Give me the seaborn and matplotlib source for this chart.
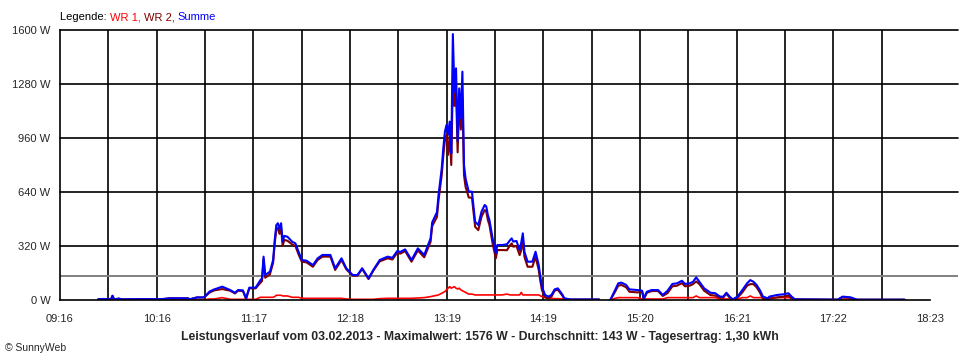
import numpy as np
import pandas as pd
import matplotlib
matplotlib.use("Agg")
import matplotlib.pyplot as plt
import seaborn as sns

# ---------------- data ----------------
times = ["09:40", "09:43", "09:48", "09:49", "09:50", "09:53", "09:55", "10:05", "10:20", "10:25",
         "10:36", "10:38", "10:42", "10:46", "10:47", "10:50", "10:53", "10:58", "11:03", "11:06",
         "11:08", "11:11", "11:13", "11:15", "11:19", "11:22", "11:23", "11:24", "11:25", "11:28",
         "11:30", "11:31", "11:32", "11:33", "11:34", "11:35", "11:36", "11:37", "11:39", "11:42",
         "11:44", "11:46", "11:48", "11:51", "11:55", "11:58", "12:01", "12:06", "12:09", "12:13",
         "12:16", "12:20", "12:23", "12:26", "12:30", "12:33", "12:37", "12:42", "12:45", "12:48",
         "12:50", "12:53", "12:57", "13:01", "13:05", "13:09", "13:10", "13:13", "13:14", "13:16",
         "13:17", "13:18", "13:19", "13:20", "13:21", "13:22", "13:23", "13:24", "13:25", "13:26",
         "13:27", "13:28", "13:29", "13:30", "13:31", "13:32", "13:33", "13:35", "13:37", "13:39",
         "13:41", "13:43", "13:44", "13:45", "13:46", "13:48", "13:50", "13:51", "13:54", "13:57",
         "13:59", "14:00", "14:01", "14:03", "14:05", "14:06", "14:07", "14:08", "14:10", "14:13",
         "14:15", "14:17", "14:18", "14:19", "14:21", "14:23", "14:25", "14:27", "14:29", "14:32",
         "14:33", "14:37", "14:55",
         "15:02", "15:05", "15:07", "15:09", "15:12", "15:14", "15:19", "15:22", "15:23", "15:25",
         "15:28", "15:32", "15:35", "15:38", "15:41", "15:44", "15:47", "15:49", "15:52", "15:54",
         "15:56", "15:58", "16:01", "16:05", "16:08", "16:11", "16:13", "16:15", "16:17", "16:19",
         "16:22", "16:25", "16:28", "16:30", "16:32", "16:34", "16:36", "16:38", "16:41", "16:42",
         "16:47", "16:51", "16:54", "16:56", "16:58", "17:25", "17:28", "17:33", "17:37", "18:07"]

summe = [4, 6, 4, 25, 4, 8, 4, 5, 5, 10,
         10, 5, 15, 15, 20, 50, 63, 79, 59, 43,
         59, 57, 10, 73, 73, 118, 128, 257, 148, 168,
         237, 355, 444, 455, 420, 455, 345, 380, 375, 345,
         336, 286, 237, 233, 207, 247, 267, 267, 188, 247,
         188, 148, 148, 188, 128, 178, 237, 257, 250, 290,
         285, 300, 237, 306, 267, 365, 460, 520, 622, 780,
         900, 997, 1037, 980, 1057, 870, 1576, 1234, 1373, 940,
         1254, 1077, 1353, 800, 720, 680, 642, 642, 464, 444,
         523, 563, 555, 504, 474, 365, 277, 326, 326, 330,
         355, 365, 346, 350, 296, 340, 395, 286, 227, 227,
         286, 207, 138, 79, 30, 20, 30, 63, 69, 30,
         10, 3, 3,
         0, 59, 99, 103, 89, 63, 59, 55, 10, 49,
         59, 59, 30, 55, 95, 99, 114, 95, 99, 108,
         134, 108, 69, 43, 40, 20, 20, 43, 20, 4,
         20, 59, 99, 118, 108, 89, 59, 20, 10, 20,
         30, 34, 40, 20, 4, 2, 20, 16, 2, 2]

wr1 = [0, 0, 0, 0, 0, 0, 0, 0, 0, 0,
       0, 0, 0, 0, 2, 6, 6, 14, 4, 4,
       4, 4, 4, 4, 4, 16, 16, 16, 16, 16,
       16, 20, 28, 28, 28, 28, 24, 24, 24, 16,
       16, 16, 10, 10, 10, 10, 10, 10, 10, 10,
       6, 4, 4, 4, 4, 4, 8, 10, 10, 10,
       10, 10, 10, 12, 14, 20, 22, 28, 30, 40,
       45, 50, 60, 70, 79, 70, 75, 79, 70, 65,
       70, 60, 55, 50, 45, 40, 35, 35, 30, 30,
       30, 30, 30, 30, 30, 30, 30, 30, 30, 35,
       30, 30, 30, 30, 30, 45, 30, 30, 30, 30,
       30, 30, 25, 20, 15, 10, 10, 8, 8, 6,
       2, 0, 0,
       0, 10, 14, 14, 14, 14, 14, 6, 6, 6,
       6, 6, 6, 14, 14, 14, 14, 14, 14, 14,
       24, 14, 14, 14, 14, 6, 6, 6, 6, 2,
       6, 14, 14, 24, 14, 14, 14, 14, 6, 14,
       14, 14, 14, 10, 0, 0, 4, 4, 0, 0]

wr2 = [4, 6, 4, 25, 4, 8, 4, 5, 5, 10,
       10, 5, 15, 15, 18, 44, 57, 65, 55, 39,
       55, 53, 6, 69, 69, 102, 112, 241, 132, 152,
       221, 335, 416, 427, 392, 427, 321, 356, 351, 329,
       320, 270, 227, 223, 197, 237, 257, 257, 178, 237,
       182, 144, 144, 184, 124, 174, 229, 247, 240, 280,
       275, 290, 227, 294, 253, 345, 438, 492, 592, 740,
       855, 947, 977, 860, 978, 800, 1310, 1150, 1250, 875,
       1180, 1010, 1200, 740, 670, 640, 607, 607, 434, 414,
       493, 533, 525, 474, 444, 335, 247, 296, 296, 295,
       325, 335, 316, 320, 266, 295, 365, 256, 197, 197,
       256, 177, 113, 59, 15, 10, 20, 55, 61, 24,
       8, 3, 3,
       0, 49, 85, 89, 75, 49, 45, 49, 4, 43,
       53, 53, 24, 41, 81, 85, 100, 81, 85, 94,
       110, 94, 55, 29, 26, 14, 14, 37, 14, 2,
       14, 45, 85, 94, 94, 75, 45, 6, 4, 6,
       16, 20, 26, 10, 4, 2, 16, 12, 2, 2]

# second measurement block starts after the data gap
segment_start = "15:02"

x_labels = ["09:16", "10:16", "11:17", "12:18", "13:19",
            "14:19", "15:20", "16:21", "17:22", "18:23"]
y_ticks = [0, 320, 640, 960, 1280, 1600]
mean_value = 143

title = ("Leistungsverlauf vom 03.02.2013 - Maximalwert: 1576 W - "
         "Durchschnitt: 143 W - Tagesertrag: 1,30 kWh")

# ---------------- prep ----------------
def to_min(s):
    h, m = s.split(":")
    return int(h) * 60 + int(m)

t0 = to_min(x_labels[0])
t_end = to_min(x_labels[-1])
span = t_end - t0

mins = np.array([to_min(t) - t0 for t in times], dtype=float)
seg = np.where(mins >= to_min(segment_start) - t0, 1, 0)

frames = []
for name, vals in [("WR 1", wr1), ("WR 2", wr2), ("Summe", summe)]:
    frames.append(pd.DataFrame({"t": mins, "W": vals, "series": name, "seg": seg}))
df = pd.concat(frames, ignore_index=True)

# ---------------- plot ----------------
sns.set_style("white")
plt.rcParams["font.family"] = ["Liberation Sans", "DejaVu Sans"]

fig = plt.figure(figsize=(9.6, 3.6), dpi=100)
ax = fig.add_axes([60 / 960, 60 / 360, 898 / 960, 270 / 360])
ax.set_facecolor("white")

ax.set_xlim(0, span * 898 / 870)
ax.set_ylim(0, 1600)

step = span / 18
for k in range(1, 18):
    ax.axvline(k * step, color="black", lw=1.2, zorder=1)
for y in y_ticks[1:]:
    ax.axhline(y, color="black", lw=1.2, zorder=1, clip_on=False)
ax.axhline(mean_value, color="#808080", lw=1.4, zorder=1)

colors = {"WR 1": "#ff0000", "WR 2": "#800000", "Summe": "#0000ff"}
widths = {"WR 1": 1.2, "WR 2": 1.5, "Summe": 1.5}
for name in ["WR 1", "WR 2", "Summe"]:
    sub = df[df["series"] == name]
    sns.lineplot(data=sub, x="t", y="W", units="seg", estimator=None,
                 color=colors[name], lw=widths[name], ax=ax, zorder=3,
                 legend=False)

ax.set_xlabel("")
ax.set_ylabel("")

xt = [k * step for k in range(19)]
xl = [x_labels[k // 2] if k % 2 == 0 else "" for k in range(19)]
ax.set_xticks(xt)
ax.set_xticklabels(xl, fontsize=8)
ax.set_yticks(y_ticks)
ax.set_yticklabels([f"{v} W" for v in y_ticks], fontsize=8)
ax.tick_params(axis="x", direction="out", length=5, width=1.2,
               color="black", pad=5)
ax.tick_params(axis="y", direction="out", length=5, width=1.2,
               color="black", pad=2)

for s in ["top", "right"]:
    ax.spines[s].set_visible(False)
for s in ["left", "bottom"]:
    ax.spines[s].set_color("black")
    ax.spines[s].set_linewidth(1.2)
    ax.spines[s].set_zorder(4)
ax.spines["bottom"].set_bounds(0, span)

# legend line
fig.canvas.draw()
renderer = fig.canvas.get_renderer()
xpos = 60 / 960
ypos = (360 - 17) / 360
for txt, col in [("Legende: ", "black"), ("WR 1, ", "#ff0000"),
                 ("WR 2, ", "#800000"), ("Summe", "#0000ff")]:
    t = fig.text(xpos, ypos, txt, color=col, fontsize=8, va="center", ha="left")
    bb = t.get_window_extent(renderer=renderer)
    xpos += bb.width / 960

fig.text(480 / 960, (360 - 337) / 360, title, ha="center", va="center",
         fontsize=8.8, fontweight="bold")
fig.text(5 / 960, (360 - 348) / 360, "© SunnyWeb", ha="left", va="center",
         fontsize=7.5)

fig.savefig("out.png", dpi=100, facecolor="white")
